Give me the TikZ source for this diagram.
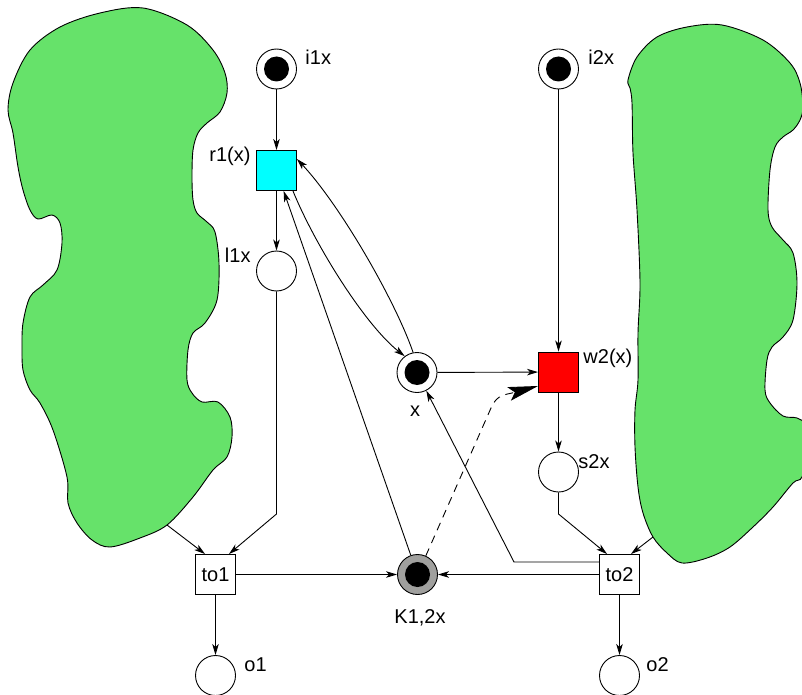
\documentclass[tikz,border=0pt]{standalone}
\usepackage{fontspec}
\setmainfont{Liberation Sans}
\usetikzlibrary{arrows.meta}
\definecolor{blobgreen}{RGB}{102,226,106}
\definecolor{markgrey}{RGB}{160,160,158}
\definecolor{readcyan}{RGB}{0,255,255}
\definecolor{writered}{RGB}{255,0,0}
\begin{document}
\begin{tikzpicture}[x=1pt,y=-1pt,
  line width=0.9pt,
  every node/.style={font=\fontsize{20}{24}\selectfont, inner sep=0pt},
  place/.style={circle, draw, fill=white, minimum size=40pt},
  trans/.style={rectangle, draw, fill=white, minimum size=40pt},
  arc/.style={-{Stealth[length=11pt,width=6.5pt,inset=3pt]}},
  bigarc/.style={-{Stealth[length=30pt,width=14pt,inset=6pt]}},
  blob/.style={fill=blobgreen, draw, line width=0.9pt},
]
\useasboundingbox (0,0) rectangle (802,695);

% environment regions
\begin{scope}
\clip (0,0) rectangle (802,695);
\draw[blob] plot[smooth cycle, tension=0.55] coordinates {
  (143,8) (187,25) (213,50) (225,73) (227,93) (220,112) (207,123) (198,133)
  (193,150) (192,177) (193,200) (197,213) (207,222) (215,232) (219,263)
  (217,300) (205,323) (193,333) (188,350) (187,380) (192,393) (202,402)
  (218,402) (230,417) (232,437) (227,457) (213,470) (193,497) (167,525)
  (140,538) (110,547) (92,540) (77,523) (68,503) (67,477) (53,430) (40,403)
  (30,390) (23,370) (22,347) (23,323) (30,297) (43,285) (57,270) (62,243)
  (60,223) (52,215) (38,219) (30,210) (23,190) (18,167) (13,133) (8,110)
  (13,83) (30,50) (60,27) (100,13)};
\draw[blob] plot[smooth cycle, tension=0.55] coordinates {
  (722,25) (763,40) (790,63) (800,83) (803,107) (800,120) (793,130) (783,137)
  (775,147) (770,170) (768,210) (772,227) (783,240) (793,253) (797,283)
  (793,320) (783,337) (772,347) (767,360) (765,390) (770,403) (783,416)
  (797,418) (805,425) (808,450) (802,477) (793,483) (773,507) (753,527)
  (730,547) (707,558) (682,563) (667,553) (653,537) (643,513) (638,487)
  (635,447) (635,410) (638,380) (638,333) (640,283) (637,210) (633,153)
  (632,103) (630,88) (628,80) (637,57) (657,37) (687,27)};
\end{scope}

% places
\node[place] (i1x) at (276.5,69) {};
\node[place] (l1x) at (276.5,271) {};
\node[place] (x)   at (417,372.5) {};
\node[place] (i2x) at (558.5,69) {};
\node[place] (s2x) at (558.5,472) {};
\node[place, fill=markgrey] (K) at (417.5,574.5) {};
\node[place] (o1)  at (215.5,675.5) {};
\node[place] (o2)  at (619.5,675.5) {};

% tokens
\foreach \p in {i1x,x,i2x,K}
  \fill (\p.center) circle [radius=12.5pt];

% transitions
\node[trans, fill=readcyan] (r1) at (276.5,170.5) {};
\node[trans, fill=writered] (w2) at (558.5,372) {};
\node[trans] (to1) at (215.5,574.5) {to1};
\node[trans] (to2) at (619.5,574.5) {to2};

% labels
\node[anchor=base west] (i1xlab) at (305,65) {i1x};
\node[anchor=base east] (r1lab)  at (251,162) {r1(x)};
\node[anchor=base east] (l1xlab) at (251,262) {l1x};
\node[anchor=base west] (i2xlab) at (588,65) {i2x};
\node[anchor=base west] (w2lab)  at (583,363) {w2(x)};
\node[anchor=base]      (xlab)   at (415,416) {x};
\node[anchor=base west] (s2xlab) at (578,468) {s2x};
\node[anchor=base]      (Klab)   at (420,623) {K1,2x};
\node[anchor=base west] (o1lab)  at (244,671) {o1};
\node[anchor=base west] (o2lab)  at (646,671) {o2};

% bend points
\coordinate (blobL) at (167,525);
\coordinate (blobR) at (653,537);
\coordinate (l1bend) at (276.5,514);
\coordinate (s2bend) at (558.5,514);
\coordinate (to2bend) at (514,562);
\coordinate (dashbend) at (491,408);

% arcs
\draw[arc] (i1x) -- (r1);
\draw[arc] (r1) -- (l1x);
\draw[arc] (l1x.south) -- (l1bend) -- ([xshift=-7pt]to1.north east);
\draw[arc] (blobL) -- ([xshift=10pt]to1.north west);
\draw[arc] (to1) -- (K);
\draw[arc] (to2) -- (K);
\draw[arc] (to1) -- (o1);
\draw[arc] (to2) -- (o2);
\draw[arc] (i2x) -- (w2);
\draw[arc] (w2) -- (s2x);
\draw[arc] (s2x.south) -- (s2bend) -- ([xshift=8pt]to2.north west);
\draw[arc] (blobR) -- ([xshift=-9pt]to2.north east);
\draw[arc] (x) -- (w2);
\draw[arc] (K) -- (r1);
\draw[arc] ([xshift=-4pt]r1.south east) .. controls (315,245) and (365,325) .. (x.127);
\draw[arc] (x.101) .. controls (395,300) and (340,205) .. ([yshift=11.5pt]r1.east);
\draw[arc] ([yshift=12.5pt]to2.west) -- (to2bend) -- (x);
\draw[bigarc, dash pattern=on 8pt off 6pt] (K.66) -- (dashbend)
  .. controls (497,394) and (505,395) .. ([yshift=-14pt]w2.west);
\end{tikzpicture}
\end{document}
